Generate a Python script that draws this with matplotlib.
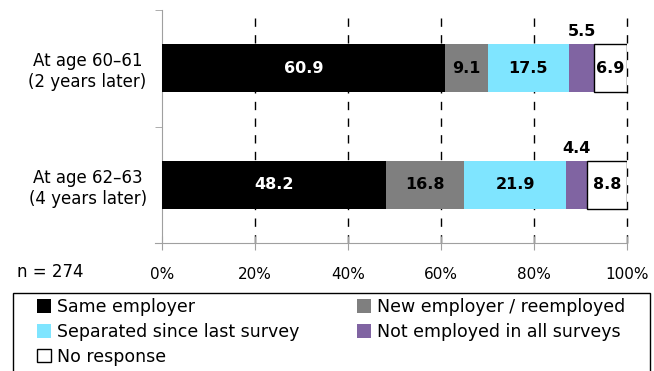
import matplotlib.pyplot as plt
from matplotlib.patches import Rectangle
from matplotlib.ticker import FixedLocator
import numpy as np

plt.rcParams["font.family"] = ["DejaVu Sans"]

groups = ["At age 60–61\n(2 years later)", "At age 62–63\n(4 years later)"]
series = ["Same employer", "New employer / reemployed", "Separated since last survey",
          "Not employed in all surveys", "No response"]
same_employer = [60.9, 48.2]
new_employer = [9.1, 16.8]
separated = [17.5, 21.9]
not_employed = [5.5, 4.4]
no_response = [6.9, 8.8]
values = [same_employer, new_employer, separated, not_employed, no_response]
colors = ["#000000", "#7f7f7f", "#7fe5ff", "#8064a2", "#ffffff"]
xticks = [0, 20, 40, 60, 80, 100]

fig = plt.figure(figsize=(6.54, 3.71), dpi=100)
ax = fig.add_axes([162 / 654, 1 - 243 / 371, 465 / 654, 233 / 371])

ypos = np.array([1, 0])
left = np.zeros(2)
handles = []
for name, vals, col in zip(series, values, colors):
    vals = np.array(vals)
    edge = "black" if col == "#ffffff" else "none"
    bars = ax.barh(ypos, vals, left=left, height=0.41, color=col, edgecolor=edge,
                   linewidth=1, label=name, zorder=3)
    handles.append(bars)
    for y, l, v in zip(ypos, left, vals):
        if name == "Not employed in all surveys":
            ax.text(l + v / 2, y + 0.25, f"{v:.1f}", ha="center", va="bottom",
                    fontsize=11.5, fontweight="bold", color="black", zorder=4)
        else:
            tc = "white" if col == "#000000" else "black"
            ax.text(l + v / 2, y, f"{v:.1f}", ha="center", va="center",
                    fontsize=11.5, fontweight="bold", color=tc, zorder=4)
    left = left + vals

ax.set_xlim(0, 100)
ax.set_ylim(-0.5, 1.5)
ax.set_xticks(xticks)
ax.set_xticklabels([f"{t}%" for t in xticks], fontsize=11)
ax.set_yticks(ypos)
ax.set_yticklabels(groups, fontsize=12)
for lab in ax.get_yticklabels():
    lab.set_multialignment("center")
ax.yaxis.set_minor_locator(FixedLocator([-0.5, 0.5, 1.5]))
ax.tick_params(axis="y", which="major", length=0, pad=11)
ax.tick_params(axis="y", which="minor", length=5, color="#a0a0a0", direction="out")
ax.tick_params(axis="x", length=10, direction="inout", color="#a0a0a0", pad=12)

for x in xticks[1:]:
    ax.axvline(x, color="black", linestyle=(0, (6, 6)), linewidth=1, zorder=1,
               clip_on=False)

for s in ["top", "right"]:
    ax.spines[s].set_visible(False)
for s in ["left", "bottom"]:
    ax.spines[s].set_color("#a0a0a0")
ax.spines["bottom"].set_bounds(-1.5, 100)

fig.text(17 / 654, 1 - 272 / 371, "n = 274", va="center", fontsize=12)

fig.patches.append(Rectangle((13 / 654, -0.05), 637 / 654, (1 - 293 / 371) + 0.05,
                             transform=fig.transFigure, fill=False, edgecolor="black",
                             linewidth=1))
order = [0, 2, 4, 1, 3]
fig.legend([handles[i] for i in order], [series[i] for i in order], ncol=2,
           loc="upper left", bbox_to_anchor=(37 / 654, 1 - 298 / 371), frameon=False,
           fontsize=12.5, handlelength=0.8, handleheight=0.8, handletextpad=0.35,
           labelspacing=0.4, columnspacing=3.3, borderpad=0, borderaxespad=0)

fig.savefig("out.png", dpi=100)
